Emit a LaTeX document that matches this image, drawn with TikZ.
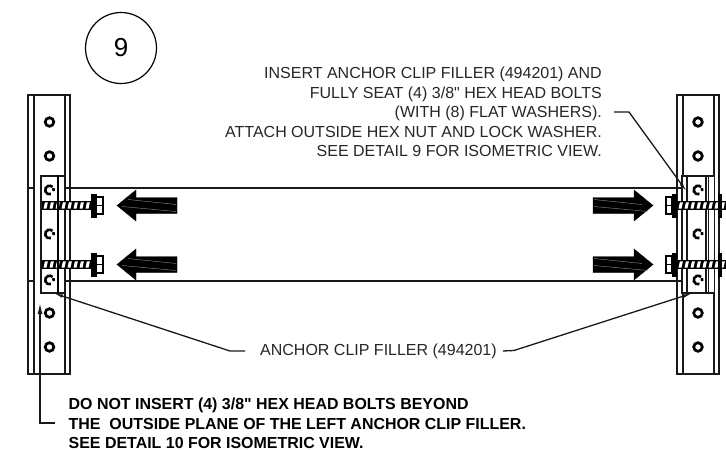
\documentclass[tikz,border=0pt]{standalone}
\usepackage{fontspec}
\setmainfont[Ligatures=TeXOff]{Liberation Sans}
\usetikzlibrary{arrows.meta}

\tikzset{
  part/.style={line width=1.4pt, draw=black!90},
  leader/.style={line width=1.3pt, draw=black!90},
  note/.style={inner sep=0pt, font=\fontsize{16}{19.5}\selectfont, text=black!85},
  warn/.style={inner sep=0pt, anchor=base west, font=\fontsize{15.95}{19.5}\selectfont\bfseries},
  boltarrow/.style={fill=black, draw=black, line width=0.4pt},
  streak/.style={draw=black!45, line width=0.4pt}
}

% post with two flanges: x of left edge
\newcommand{\postbar}[1]{
  \draw[part] (#1,95) rectangle ++(42,279);
  \draw[part] (#1+6,95) -- ++(0,279);
  \draw[part] (#1+37,95) -- ++(0,279);
}
% mounting hole
\newcommand{\hole}[2]{
  \draw[line width=2.7pt, fill=white] (#1,#2) circle (4.3);
}
% hole seen through the clip
\newcommand{\cliphole}[2]{
  \draw[line width=2.6pt] (#1,#2)++(70:4.3) arc (70:315:4.3);
  \draw[line width=2.6pt] (#1,#2)++(335:4.3) arc (335:375:4.3);
}
% threaded shank: x start, last thread number, height y
\newcommand{\shank}[3]{
  \fill[black] (#1,#3-4.6) rectangle ++(#2*6+7,9.2);
  \foreach \tn in {0,...,#2}
    \fill[white] (#1+1.5+\tn*6,#3+3.2) -- ++(1.4,-6.4) -- ++(3,0) -- ++(-1.4,6.4) -- cycle;
}

\begin{document}
\begin{tikzpicture}[x=1pt, y=-1pt]
  \useasboundingbox (0,0) rectangle (726,450);

  % Step number
  \node[draw, line width=1.2pt, circle, minimum size=71pt, inner sep=0pt, font=\fontsize{26}{26}\selectfont] (stepnum) at (121,48) {9};

  % Left post
  \postbar{28}
  \hole{49.5}{122}
  \hole{49.5}{156}
  \hole{49.5}{313}
  \hole{49.5}{347}
  \draw[part] (28,188) -- (34,188);
  \draw[part] (28,281) -- (34,281);

  % Right post
  \postbar{677}
  \hole{698}{122}
  \hole{698}{156}
  \hole{698}{313}
  \hole{698}{347}

  % Filler between the posts
  \draw[part] (65,188) -- (682,188);
  \draw[part] (65,281) -- (682,281);

  % Left clip
  \draw[part, fill=white] (41,176) rectangle (64.5,293);
  \draw[line width=1.8pt] (58,175) -- (58,293);
  \cliphole{49.5}{190}
  \cliphole{49.5}{234}
  \cliphole{49.5}{280}

  % Right clip
  \draw[part, fill=white] (682,176) rectangle (714.5,293);
  \draw[part] (687,176) -- (687,293);
  \draw[part] (706,175) -- (706,293);
  \draw[part] (708.5,176) -- (708.5,293);
  \cliphole{698}{190}
  \cliphole{698}{234}
  \cliphole{698}{280}

  % Left bolts
  \foreach \by in {205.5,264.5} {
    \shank{42}{7}{\by}
    \fill[black] (91,\by-12) rectangle (96.5,\by+12);
    \draw[line width=1.2pt] (96.5,\by-8.5) rectangle (103,\by+8.5);
    \draw[line width=0.9pt] (96.5,\by) -- (103,\by);
    \draw[line width=1.8pt] (58,\by-5) -- (58,\by+5);
  }

  % Right bolts
  \foreach \by in {205.5,264.5} {
    \shank{677}{7}{\by}
    \fill[black] (672,\by-12) rectangle (677,\by+12);
    \fill[black] (718,\by-12) rectangle (722,\by+12);
    \draw[line width=1.2pt] (666,\by-8.5) rectangle (672,\by+8.5);
    \draw[line width=0.9pt] (666,\by) -- (672,\by);
  }

  % Arrows
  \foreach \by in {205.5,264.5} {
    \draw[boltarrow] (117,\by) -- (136,\by-15.5) -- (136,\by-8) -- (177,\by-8) -- (177,\by+8) -- (136,\by+8) -- (136,\by+15.5) -- cycle;
    \draw[streak] (128,\by-6) -- (176,\by-1);
    \draw[streak] (122,\by+1) -- (176,\by+6);
    \draw[boltarrow] (653,\by) -- (634,\by-15.5) -- (634,\by-8) -- (593,\by-8) -- (593,\by+8) -- (634,\by+8) -- (634,\by+15.5) -- cycle;
    \draw[streak] (594,\by-6) -- (642,\by-1);
    \draw[streak] (594,\by+1) -- (648,\by+6);
  }

  % Notes
  \node[note, align=right, anchor=north east] (topnote) at (602,67) {INSERT ANCHOR CLIP FILLER (494201) AND\\
    FULLY SEAT (4) 3/8" HEX HEAD BOLTS\\
    (WITH (8) FLAT WASHERS).\\
    ATTACH OUTSIDE HEX NUT AND LOCK WASHER.\\
    SEE DETAIL 9 FOR ISOMETRIC VIEW.};
  \node[note, anchor=west] (cliplabel) at (260,351) {ANCHOR CLIP FILLER (494201)};
  \node[warn] (warnA) at (68.5,409.7) {DO NOT INSERT (4) 3/8" HEX HEAD BOLTS BEYOND};
  \node[warn] (warnB) at (68.5,429) {THE \ OUTSIDE PLANE OF THE LEFT ANCHOR CLIP FILLER.};
  \node[warn] (warnC) at (68.5,448.4) {SEE DETAIL 10 FOR ISOMETRIC VIEW.};

  % Leaders
  \coordinate (topend) at (687,192);
  \coordinate (clipL) at (53,293);
  \coordinate (clipR) at (693,293);
  \coordinate (warnend) at (40,303);
  \draw[leader, -{Latex[length=10pt,width=3.5pt]}] (topnote.east |- 0,112) ++(12,0) -- ++(15,0) -- (topend);
  \draw[leader, -{Latex[length=10pt,width=3.5pt]}] (cliplabel.west) ++(-15,0) -- ++(-15,0) -- (clipL);
  \draw[leader, -{Latex[length=10pt,width=3.5pt]}] (cliplabel.east) ++(6,0) -- ++(11,-0.5) -- (clipR);
  \draw[leader, -{Latex[length=11pt,width=5pt]}] (warnA.west |- 0,423) ++(-14,0) -- (warnend |- 0,423) -- (warnend);
\end{tikzpicture}
\end{document}
